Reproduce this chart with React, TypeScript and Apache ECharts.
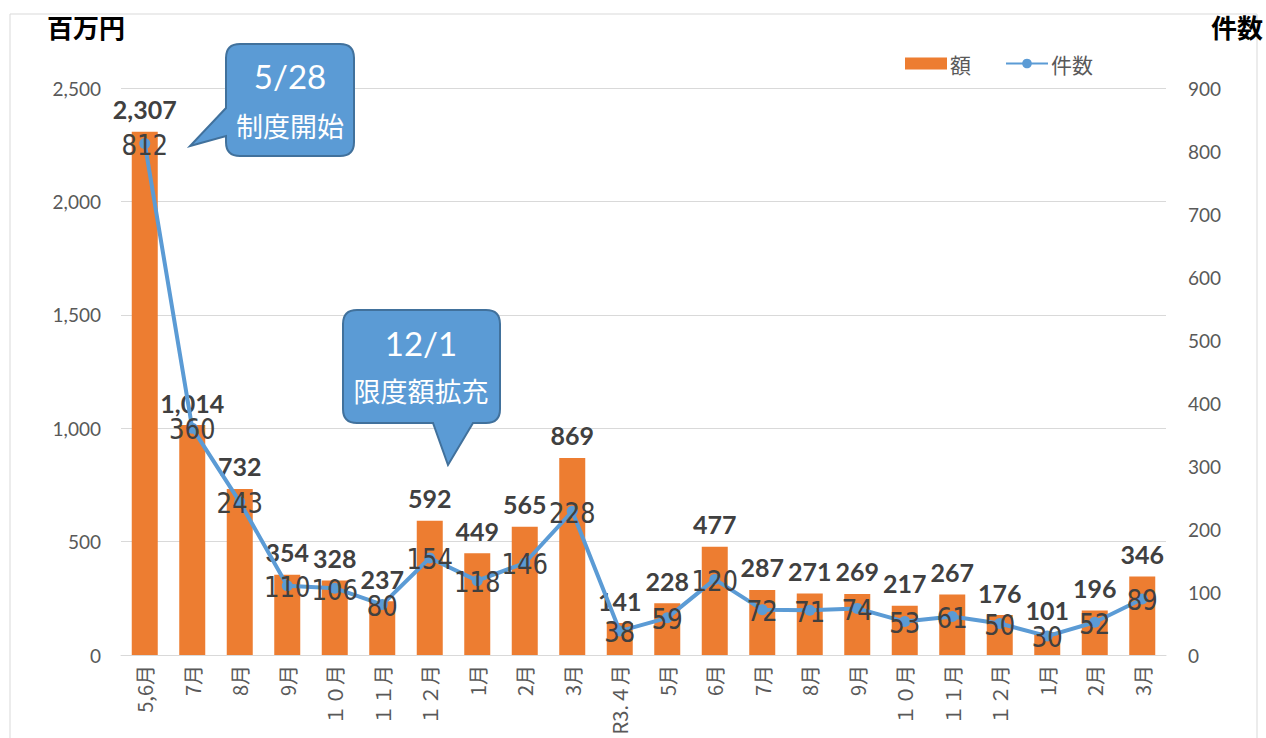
import React, { useEffect, useRef } from "react";
import * as echarts from "echarts";

const categories = ["5,6月", "7月", "8月", "9月", "１０月", "１１月", "１２月", "1月", "2月", "3月", "R3.４月", "5月", "6月", "7月", "8月", "9月", "１０月", "１１月", "１２月", "1月", "2月", "3月"];
const amounts = [2307, 1014, 732, 354, 328, 237, 592, 449, 565, 869, 141, 228, 477, 287, 271, 269, 217, 267, 176, 101, 196, 346];
const counts = [812, 360, 243, 110, 106, 80, 154, 118, 146, 228, 38, 59, 120, 72, 71, 74, 53, 61, 50, 30, 52, 89];

const FONT = "Lato, 'Noto Sans CJK JP', sans-serif";
const JP = "'Noto Sans CJK JP', sans-serif";

function roundRectWithTail(x0: number, y0: number, x1: number, y1: number, r: number, tail: number[][], side: "left" | "bottom") {
  let d = `M ${x0 + r} ${y0} L ${x1 - r} ${y0} Q ${x1} ${y0} ${x1} ${y0 + r} L ${x1} ${y1 - r} Q ${x1} ${y1} ${x1 - r} ${y1} `;
  if (side === "bottom") {
    d += `L ${tail[2][0]} ${tail[2][1]} L ${tail[1][0]} ${tail[1][1]} L ${tail[0][0]} ${tail[0][1]} `;
  }
  d += `L ${x0 + r} ${y1} Q ${x0} ${y1} ${x0} ${y1 - r} `;
  if (side === "left") {
    d += `L ${tail[2][0]} ${tail[2][1]} L ${tail[1][0]} ${tail[1][1]} L ${tail[0][0]} ${tail[0][1]} `;
  }
  d += `L ${x0} ${y0 + r} Q ${x0} ${y0} ${x0 + r} ${y0} Z`;
  return d;
}

const call1 = roundRectWithTail(226, 44, 354, 156, 14, [[226, 108], [190, 146], [226, 136]], "left");
const call2 = roundRectWithTail(343, 310, 500, 423, 14, [[433, 423], [448, 465], [473, 423]], "bottom");
echarts.graphic.registerShape("callout1", echarts.graphic.extendPath(call1, {}));
echarts.graphic.registerShape("callout2", echarts.graphic.extendPath(call2, {}));

export default function App() {
  const ref = useRef<HTMLDivElement>(null);
  useEffect(() => {
    const chart = echarts.init(ref.current!, null, { renderer: "svg" });
    const calloutStyle = { fill: "#5B9BD5", stroke: "#41719C", lineWidth: 2 };
    chart.setOption({
      animation: false,
      backgroundColor: "#ffffff",
      grid: { left: 121, right: 100, top: 88, bottom: 83 },
      legend: {
        left: 900,
        top: 48,
        itemWidth: 42,
        itemHeight: 12,
        itemGap: 34,
        textStyle: { fontSize: 21, color: "#595959", fontFamily: JP, padding: [0, 0, 0, -2] },
        data: [
          { name: "額", icon: "rect" },
          { name: "件数" },
        ],
      },
      xAxis: {
        type: "category",
        data: categories,
        axisLine: { lineStyle: { color: "#d9d9d9" } },
        axisTick: { show: false },
        axisLabel: { rotate: 90, fontSize: 20, color: "#595959", fontFamily: JP, margin: 10, interval: 0 },
      },
      yAxis: [
        {
          type: "value",
          min: 0,
          max: 2500,
          interval: 500,
          axisLine: { show: false },
          axisTick: { show: false },
          splitLine: { lineStyle: { color: "#d9d9d9", width: 1 } },
          axisLabel: {
            fontSize: 19,
            color: "#595959",
            fontFamily: FONT,
            margin: 20,
            formatter: (v: number) => v.toLocaleString("en-US"),
          },
        },
        {
          type: "value",
          min: 0,
          max: 900,
          interval: 100,
          axisLine: { show: false },
          axisTick: { show: false },
          splitLine: { show: false },
          axisLabel: { fontSize: 19, color: "#595959", fontFamily: FONT, margin: 22 },
        },
      ],
      series: [
        {
          name: "額",
          type: "bar",
          data: amounts,
          barWidth: 26,
          itemStyle: { color: "#ED7D31" },
          label: {
            show: true,
            position: "top",
            distance: 10,
            fontSize: 25,
            fontWeight: "bold",
            color: "#404040",
            fontFamily: FONT,
            formatter: (p: any) => Number(p.value).toLocaleString("en-US"),
          },
          z: 2,
        },
        {
          name: "件数",
          type: "line",
          yAxisIndex: 1,
          data: counts,
          symbol: "circle",
          symbolSize: 11,
          lineStyle: { color: "#5B9BD5", width: 4 },
          itemStyle: { color: "#5B9BD5" },
          z: 3,
        },
        {
          name: "件数ラベル",
          type: "custom",
          yAxisIndex: 1,
          data: counts.map((v, i) => [i, v]),
          z: 4,
          silent: true,
          renderItem: (params: any, api: any) => {
            const pt = api.coord([api.value(0), api.value(1)]);
            return {
              type: "text",
              x: pt[0],
              y: pt[1] + 1,
              scaleX: 0.84,
              style: {
                text: String(api.value(1)),
                fontSize: 29,
                fontFamily: "'DejaVu Sans', sans-serif",
                fill: "#404040",
                align: "center",
                verticalAlign: "middle",
              },
            };
          },
        },
      ],
      graphic: [
        { type: "rect", shape: { x: 10, y: 14, width: 1247, height: 740 }, style: { fill: "none", stroke: "#d9d9d9", lineWidth: 1 }, silent: true, z: -1 },
        { type: "text", x: 47, y: 13, style: { text: "百万円", fontSize: 26, fontWeight: "bold", fill: "#000000", fontFamily: JP } },
        { type: "text", x: 1211, y: 13, style: { text: "件数", fontSize: 26, fontWeight: "bold", fill: "#000000", fontFamily: JP } },
        { type: "callout1", x: 0, y: 0, style: calloutStyle, z: 10 },
        { type: "text", x: 290, y: 76, z: 11, style: { text: "5/28", fontSize: 33, fill: "#ffffff", fontFamily: FONT, align: "center", verticalAlign: "middle" } },
        { type: "text", x: 290, y: 125, z: 11, style: { text: "制度開始", fontSize: 27, fill: "#ffffff", fontFamily: JP, align: "center", verticalAlign: "middle" } },
        { type: "callout2", x: 0, y: 0, style: calloutStyle, z: 10 },
        { type: "text", x: 421, y: 343, z: 11, style: { text: "12/1", fontSize: 33, fill: "#ffffff", fontFamily: FONT, align: "center", verticalAlign: "middle" } },
        { type: "text", x: 421, y: 390, z: 11, style: { text: "限度額拡充", fontSize: 27, fill: "#ffffff", fontFamily: JP, align: "center", verticalAlign: "middle" } },
      ],
    });
    return () => chart.dispose();
  }, []);
  return <div ref={ref} style={{ position: "absolute", left: 0, top: 0, width: 1266, height: 738 }} />;
}
